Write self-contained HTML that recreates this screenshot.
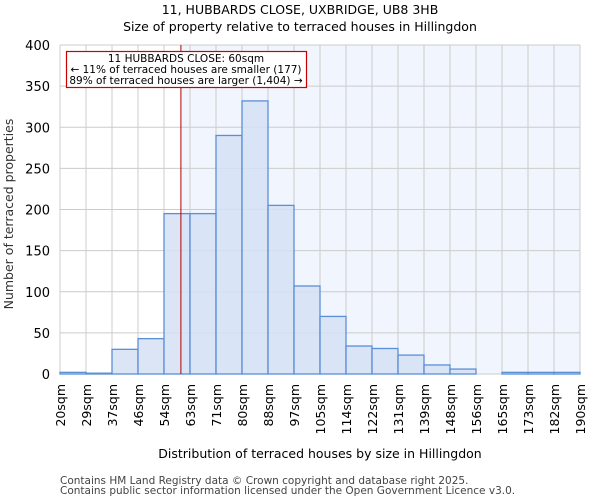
<!DOCTYPE html>
<html><head><meta charset="utf-8"><style>
body{margin:0;background:#fff;font-family:"DejaVu Sans","Liberation Sans",sans-serif;}
</style></head><body>
<svg id="chart" width="600" height="500" xmlns="http://www.w3.org/2000/svg" font-family="DejaVu Sans, Liberation Sans, sans-serif">
<text x="300" y="14" text-anchor="middle" font-size="12.5">11, HUBBARDS CLOSE, UXBRIDGE, UB8 3HB</text>
<text x="300" y="31" text-anchor="middle" font-size="12.5">Size of property relative to terraced houses in Hillingdon</text>
<g id="plot"></g>
<text x="320" y="458" text-anchor="middle" font-size="12.5">Distribution of terraced houses by size in Hillingdon</text>
<text transform="translate(13,214) rotate(-90)" text-anchor="middle" font-size="12.5" fill="#333">Number of terraced properties</text>
<text x="60" y="484" font-size="10.5" fill="#444">Contains HM Land Registry data © Crown copyright and database right 2025.</text>
<text x="60" y="494" font-size="10.5" fill="#444">Contains public sector information licensed under the Open Government Licence v3.0.</text>
</svg>
<script>
const binLabels=["20sqm","29sqm","37sqm","46sqm","54sqm","63sqm","71sqm","80sqm","88sqm","97sqm","105sqm","114sqm","122sqm","131sqm","139sqm","148sqm","156sqm","165sqm","173sqm","182sqm","190sqm"];
const counts=[2,1,30,43,195,195,290,332,205,107,70,34,31,23,11,6,0,2,2,2];
const yTicks=[0,50,100,150,200,250,300,350,400];
const markerIndex=4.65;
const NS="http://www.w3.org/2000/svg";
const g=document.getElementById('plot');
const X0=60,X1=580,Y0=374,Y1=45;
const bw=(X1-X0)/counts.length;
const xs=i=>X0+i*bw;
const ys=v=>Y0-(v/400)*(Y0-Y1);
function mk(t,a){const e=document.createElementNS(NS,t);for(const k in a)e.setAttribute(k,a[k]);g.appendChild(e);return e;}
const mx=xs(markerIndex);
let e=mk('rect',{x:mx,y:Y1,width:X1-mx,height:Y0-Y1,fill:'#f1f5fd'});


for(let i=0;i<=counts.length;i++){e=mk('line',{x1:xs(i),x2:xs(i),y1:Y1,y2:Y0,stroke:'#cccccc','stroke-width':1});

}
yTicks.forEach(t=>{e=mk('line',{x1:X0,x2:X1,y1:ys(t),y2:ys(t),stroke:'#cccccc','stroke-width':1});


e=mk('text',{x:X0-10,y:ys(t)+5,'text-anchor':'end','font-size':'13'});e.textContent=t;

});
counts.forEach((c,i)=>{e=mk('rect',{x:xs(i),y:ys(c),width:bw,height:Y0-ys(c),fill:'#d5e1f4','fill-opacity':0.85,stroke:'#5b8fd6','stroke-width':1.3});

});
binLabels.forEach((l,i)=>{e=mk('text',{transform:`translate(${xs(i)+5},${Y0+10}) rotate(-90)`,'text-anchor':'end','font-size':'12.5'});e.textContent=l;

});
e=mk('line',{x1:mx,x2:mx,y1:Y1,y2:Y0,stroke:'#b00000','stroke-width':1});


e=mk('rect',{x:66.5,y:51.5,width:240,height:36,fill:'#fff',stroke:'#cc0000','stroke-width':1.2});


[["11 HUBBARDS CLOSE: 60sqm",62],["← 11% of terraced houses are smaller (177)",73],["89% of terraced houses are larger (1,404) →",84]].forEach((a,k)=>{e=mk('text',{x:186,y:a[1],'text-anchor':'middle','font-size':'10.5'});e.textContent=a[0];

});
</script>
</body></html>
